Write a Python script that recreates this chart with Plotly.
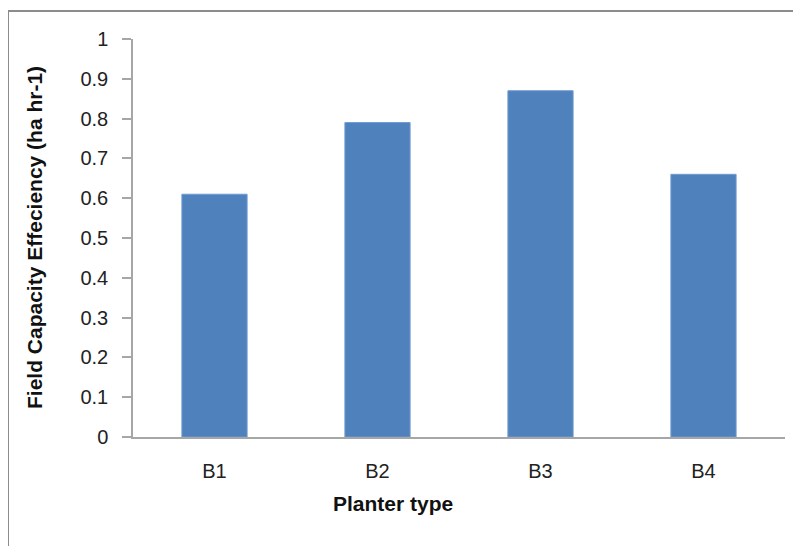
import plotly.graph_objects as go

categories = ["B1", "B2", "B3", "B4"]
values = [0.61, 0.79, 0.87, 0.66]
y_ticks = [0, 0.1, 0.2, 0.3, 0.4, 0.5, 0.6, 0.7, 0.8, 0.9, 1]
y_tick_labels = ["0", "0.1", "0.2", "0.3", "0.4", "0.5", "0.6", "0.7", "0.8", "0.9", "1"]
x_title = "Planter type"
y_title = "Field Capacity Effeciency (ha hr-1)"

# the page body has an 8px default margin, so the figure is placed at (8, 8)
OFF = 8
W, H = 801 - OFF, 546 - OFF
L, R, T, B = 133 - OFF, 16, 39 - OFF, 109
pw, ph = W - L - R, H - T - B

def px_x(x):
    return (x - OFF - L) / pw

def px_y(y):
    return 1 - (y - OFF - T) / ph

font_family = "Liberation Sans, Arial, sans-serif"

fig = go.Figure(go.Bar(
    x=categories, y=values,
    marker=dict(color="#4F81BD", line=dict(color="#6f9bd1", width=1)),
    width=0.4,
))

fig.update_layout(
    width=W, height=H,
    margin=dict(l=L, r=R, t=T, b=B),
    paper_bgcolor="white", plot_bgcolor="white",
    showlegend=False,
    font=dict(family=font_family, size=20, color="#222222"),
    xaxis=dict(
        showline=True, linecolor="#a6a6a6", linewidth=1.5,
        ticks="", showgrid=False, zeroline=False,
        tickfont=dict(size=20, color="#222222"),
        ticklabelstandoff=15,
    ),
    yaxis=dict(
        range=[0, 1], tickvals=y_ticks, ticktext=y_tick_labels,
        showline=True, linecolor="#a6a6a6", linewidth=1.5,
        ticks="outside", ticklen=9, tickcolor="#a6a6a6", tickwidth=1.5,
        showgrid=False, zeroline=False,
        tickfont=dict(size=20, color="#222222"),
        ticklabelstandoff=10,
    ),
    shapes=[
        dict(type="line", xref="paper", yref="paper",
             x0=px_x(8), x1=px_x(810), y0=px_y(11), y1=px_y(11),
             line=dict(color="#8c8c8c", width=2)),
        dict(type="line", xref="paper", yref="paper",
             x0=px_x(8), x1=px_x(8), y0=px_y(11), y1=px_y(560),
             line=dict(color="#8c8c8c", width=2)),
    ],
    annotations=[
        dict(text="<b>" + x_title + "</b>", xref="paper", yref="paper",
             x=px_x(393), y=px_y(503), showarrow=False,
             font=dict(size=21, color="#111111"), xanchor="center", yanchor="middle"),
        dict(text="<b>" + y_title + "</b>", xref="paper", yref="paper",
             x=px_x(34), y=px_y(238), showarrow=False, textangle=-90,
             font=dict(size=21, color="#111111"), xanchor="center", yanchor="middle"),
    ],
)

fig.write_html("out.html")
